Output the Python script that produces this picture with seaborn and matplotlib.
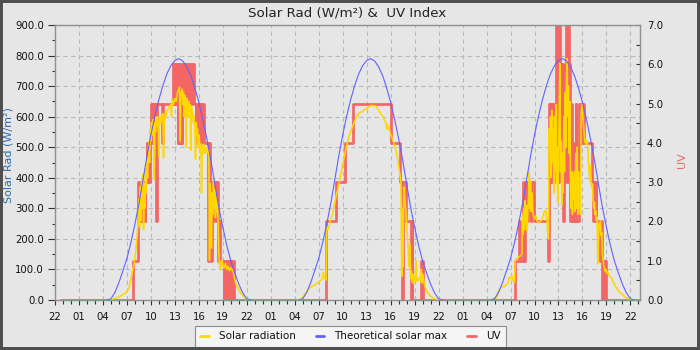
import matplotlib
matplotlib.use("Agg")
import matplotlib.pyplot as plt
import pandas as pd
import seaborn as sns
from matplotlib.lines import Line2D
from matplotlib.patches import Rectangle
from matplotlib.ticker import FixedLocator, MultipleLocator, FuncFormatter

sns.set_theme(style="white")
plt.rcParams["font.family"] = ["DejaVu Sans"]

# time axis in hours, 0 = midnight that starts the first full day
day_starts = [0, 24, 48]
data_start, data_end = -1.3, 71.1

# theoretical max, same curve each day (hour of day -> W/m2)
theo_hours = [4.5, 5.0, 5.5, 6.0, 6.5, 7.0, 7.5, 8.0, 8.5, 9.0, 9.5, 10.0, 10.5,
              11.0, 11.5, 12.0, 12.5, 13.0, 13.5, 14.0, 14.5, 15.0, 15.5, 16.0,
              16.5, 17.0, 17.5, 18.0, 18.5, 19.0, 19.5, 20.0, 20.5, 21.0, 21.5,
              22.0, 22.5]
theo_watts = [0, 4, 25, 57, 96, 136, 188, 248, 315, 392, 470, 540, 602,
              656, 702, 740, 767, 784, 790, 782, 763, 734, 694, 647,
              591, 528, 458, 380, 303, 238, 178, 128, 88, 52, 23,
              4, 0]

# measured solar radiation (hour of day, W/m2)
solar_day1 = [(4.8, 0), (5.5, 5), (6.0, 10), (6.5, 18), (6.9, 25), (7.25, 40), (7.5, 65),
              (7.7, 95), (7.9, 120), (8.1, 160), (8.25, 200), (8.4, 260), (8.5, 330),
              (8.58, 240), (8.67, 370), (8.75, 260), (8.83, 390), (8.92, 300), (9.0, 410),
              (9.08, 230), (9.17, 380), (9.25, 300), (9.33, 430), (9.42, 350), (9.5, 460),
              (9.58, 400), (9.67, 480), (9.75, 520), (9.83, 450), (9.92, 560), (10.0, 520),
              (10.08, 580), (10.17, 540), (10.25, 590), (10.33, 560), (10.42, 395),
              (10.5, 580), (10.58, 550), (10.67, 600), (10.75, 570), (10.83, 600),
              (10.92, 560), (11.0, 470), (11.08, 585), (11.17, 600), (11.25, 580),
              (11.33, 605), (11.42, 590), (11.5, 610), (11.58, 465), (11.67, 600),
              (11.75, 590), (11.83, 615), (11.92, 600), (12.0, 620), (12.17, 625),
              (12.33, 635), (12.5, 640), (12.58, 600), (12.67, 655), (12.83, 640),
              (13.0, 660), (13.17, 650), (13.33, 680), (13.5, 690), (13.58, 697),
              (13.67, 520), (13.75, 680), (13.83, 660), (13.92, 690), (14.0, 640),
              (14.08, 680), (14.17, 600), (14.25, 670), (14.33, 650), (14.42, 500),
              (14.5, 660), (14.58, 640), (14.67, 600), (14.75, 650), (14.83, 620),
              (14.92, 640), (15.0, 490), (15.08, 630), (15.17, 600), (15.25, 610),
              (15.33, 580), (15.42, 600), (15.5, 560), (15.58, 460), (15.67, 580),
              (15.75, 540), (15.83, 560), (15.92, 500), (16.0, 540), (16.08, 520),
              (16.17, 480), (16.25, 510), (16.33, 350), (16.42, 500), (16.5, 480),
              (16.58, 510), (16.67, 490), (16.75, 500), (16.83, 480), (16.92, 495),
              (17.0, 485), (17.08, 500), (17.17, 480), (17.25, 490), (17.33, 130),
              (17.42, 380), (17.5, 300), (17.58, 170), (17.67, 350), (17.75, 280),
              (17.83, 390), (17.92, 300), (18.0, 360), (18.08, 270), (18.17, 340),
              (18.25, 290), (18.33, 320), (18.42, 250), (18.5, 150), (18.58, 120),
              (18.67, 100), (18.75, 125), (18.83, 110), (18.92, 130), (19.0, 115),
              (19.17, 105), (19.33, 120), (19.5, 100), (19.67, 110), (19.83, 95),
              (20.0, 105), (20.17, 100), (20.33, 90), (20.5, 65), (20.75, 45), (21.0, 35),
              (21.25, 22), (21.5, 15), (21.75, 8), (22.0, 2), (22.1, 0)]

solar_day2 = [(4.4, 0), (4.8, 3), (5.2, 16), (5.5, 28), (5.83, 38), (6.17, 45), (6.46, 49),
              (6.75, 54), (7.08, 60), (7.33, 66), (7.5, 75), (7.58, 90), (7.67, 72),
              (7.83, 68), (7.92, 65), (8.0, 240), (8.17, 232), (8.33, 245), (8.5, 262),
              (8.75, 284), (9.0, 315), (9.17, 339), (9.38, 362), (9.58, 388), (9.79, 415),
              (10.0, 443), (10.21, 470), (10.42, 497), (10.63, 520), (10.83, 541),
              (11.04, 555), (11.25, 568), (11.46, 583), (11.67, 596), (11.88, 605),
              (12.08, 612), (12.29, 615), (12.5, 617), (12.71, 622), (12.92, 625),
              (13.13, 630), (13.33, 634), (13.54, 637), (13.75, 636), (13.96, 636),
              (14.17, 634), (14.38, 626), (14.58, 617), (14.79, 610), (15.0, 601),
              (15.21, 590), (15.42, 579), (15.5, 560), (15.58, 575), (15.83, 557),
              (16.04, 540), (16.25, 525), (16.46, 508), (16.67, 492), (16.88, 459),
              (17.08, 426), (17.29, 383), (17.38, 77), (17.46, 300), (17.54, 110),
              (17.63, 370), (17.71, 350), (17.92, 284), (18.13, 197), (18.25, 130),
              (18.33, 109), (18.42, 180), (18.5, 70), (18.58, 95), (18.67, 60),
              (18.75, 85), (18.83, 55), (18.92, 75), (19.0, 60), (19.08, 80),
              (19.17, 129), (19.25, 60), (19.33, 70), (19.5, 65), (19.67, 75),
              (19.75, 60), (19.83, 100), (19.92, 55), (20.0, 85), (20.17, 60),
              (20.33, 40), (20.5, 30), (20.75, 20), (21.0, 13), (21.33, 6), (21.67, 2),
              (22.1, 0)]

solar_day3 = [(4.5, 0), (4.9, 5), (5.25, 8), (5.5, 30), (5.75, 38), (6.0, 45), (6.25, 44),
              (6.5, 52), (6.67, 55), (6.83, 75), (7.0, 70), (7.17, 80), (7.33, 62),
              (7.5, 58), (7.6, 130), (7.75, 135), (8.0, 140), (8.25, 145), (8.42, 150),
              (8.5, 280), (8.58, 215), (8.67, 300), (8.75, 230), (8.83, 325), (8.92, 250),
              (9.0, 310), (9.08, 225), (9.17, 290), (9.25, 330), (9.33, 418), (9.42, 300),
              (9.5, 390), (9.58, 290), (9.67, 350), (9.75, 300), (9.83, 280), (9.92, 270),
              (10.0, 265), (10.17, 275), (10.33, 258), (10.5, 252), (10.67, 255),
              (10.83, 260), (11.0, 270), (11.17, 285), (11.33, 293), (11.42, 290),
              (11.5, 270), (11.58, 250), (11.67, 216), (11.75, 200), (11.83, 560),
              (11.92, 480), (12.0, 600), (12.08, 400), (12.17, 620), (12.25, 450),
              (12.33, 560), (12.42, 350), (12.5, 600), (12.58, 420), (12.67, 640),
              (12.75, 380), (12.83, 500), (12.92, 320), (13.0, 450), (13.08, 600),
              (13.17, 774), (13.25, 420), (13.33, 520), (13.42, 310), (13.5, 480),
              (13.58, 350), (13.67, 600), (13.75, 420), (13.83, 680), (13.92, 500),
              (14.0, 720), (14.08, 790), (14.17, 600), (14.25, 700), (14.33, 480),
              (14.42, 650), (14.5, 400), (14.58, 300), (14.67, 420), (14.75, 280),
              (14.83, 400), (14.92, 330), (15.0, 420), (15.08, 290), (15.17, 480),
              (15.25, 300), (15.33, 500), (15.42, 280), (15.5, 420), (15.58, 300),
              (15.67, 400), (15.75, 280), (15.83, 600), (15.92, 640), (16.0, 620),
              (16.08, 590), (16.17, 560), (16.25, 530), (16.33, 515), (16.42, 525),
              (16.5, 510), (16.58, 520), (16.67, 500), (16.75, 450), (16.83, 420),
              (16.92, 390), (17.0, 440), (17.08, 380), (17.17, 370), (17.25, 380),
              (17.33, 330), (17.42, 300), (17.5, 320), (17.58, 280), (17.67, 290),
              (17.75, 260), (17.83, 270), (17.92, 118), (18.0, 200), (18.08, 250),
              (18.17, 230), (18.25, 260), (18.33, 210), (18.42, 220), (18.5, 150),
              (18.58, 130), (18.67, 110), (18.75, 105), (18.83, 95), (18.92, 100),
              (19.0, 88), (19.17, 92), (19.33, 80), (19.5, 75), (19.67, 72), (19.83, 60),
              (20.0, 50), (20.25, 40), (20.5, 30), (20.75, 22), (21.0, 18), (21.33, 10),
              (21.67, 5), (22.0, 2), (22.4, 0)]

# UV index change points (hour of day, index)
uv_day1 = [(7.75, 1), (8.4, 3), (8.5, 2), (8.6, 3), (8.75, 2), (8.85, 3), (9.0, 2), (9.1, 3),
           (9.2, 2), (9.3, 3), (9.45, 4), (9.55, 3), (9.65, 4), (9.8, 3), (9.9, 4), (10.0, 5),
           (10.1, 4), (10.2, 5), (10.35, 4), (10.45, 5), (10.65, 2), (10.72, 5), (11.45, 4),
           (11.55, 5), (12.75, 6), (12.85, 5), (12.95, 6), (13.1, 5), (13.2, 6), (13.35, 4),
           (13.45, 6), (13.6, 4), (13.7, 6), (13.85, 4), (13.95, 6), (14.1, 5), (14.2, 6),
           (14.4, 5), (14.5, 6), (14.7, 5), (14.8, 6), (15.0, 5), (15.1, 6), (15.4, 5),
           (15.6, 4), (15.7, 5), (15.9, 4), (16.0, 5), (16.25, 4), (16.35, 5), (16.6, 4),
           (17.2, 1), (17.3, 4), (17.45, 3), (17.55, 1), (17.65, 3), (17.8, 2), (17.9, 3),
           (18.2, 2), (18.3, 3), (18.45, 1), (18.55, 2), (18.65, 1), (19.1, 0), (19.2, 1),
           (19.3, 0), (19.4, 1), (19.5, 0), (19.6, 1), (19.75, 0), (19.85, 1), (20.1, 0),
           (20.2, 1), (20.4, 0)]

uv_day2 = [(7.92, 2), (9.17, 3), (10.33, 4), (11.33, 5), (16.04, 4), (17.17, 3), (17.4, 0),
           (17.6, 3), (17.92, 2), (18.54, 0), (18.62, 2), (18.72, 0), (19.8, 1), (20.0, 0)]

uv_day3 = [(7.5, 1), (8.1, 2), (8.2, 1), (8.5, 2), (8.6, 3), (8.7, 1), (8.8, 2), (8.9, 3),
           (9.05, 2), (9.15, 3), (9.5, 2), (9.6, 3), (9.9, 2), (11.65, 1), (11.78, 5),
           (11.88, 3), (11.98, 5), (12.08, 3), (12.18, 5), (12.3, 4), (12.4, 5), (12.5, 3),
           (12.6, 5), (12.7, 7), (12.8, 6), (12.9, 7), (13.0, 3), (13.1, 7), (13.2, 6),
           (13.35, 4), (13.45, 6), (13.55, 2), (13.65, 5), (13.75, 3), (13.85, 6), (14.0, 7),
           (14.1, 3), (14.2, 7), (14.3, 6), (14.45, 2), (14.55, 5), (14.7, 2), (14.85, 4),
           (15.0, 2), (15.15, 5), (15.25, 2), (15.55, 5), (15.65, 4), (15.75, 5), (15.9, 4),
           (16.0, 5), (16.2, 4), (17.15, 3), (17.3, 2), (17.4, 3), (17.55, 2), (17.65, 3),
           (17.75, 2), (18.2, 1), (18.3, 2), (18.4, 1), (18.5, 0), (18.55, 1), (18.65, 0),
           (18.7, 1), (18.8, 0), (18.85, 1), (19.0, 0)]

yellow = "#ffd700"
blue = "#6262ff"
red = "#f46666"
bg = "#e6e6e6"

solar = pd.DataFrame(
    [(d, day_starts[d] + h, w)
     for d, pts in enumerate([solar_day1, solar_day2, solar_day3]) for h, w in pts],
    columns=["day", "t", "watts"])
theo = pd.DataFrame(
    [(d, day_starts[d] + h, w)
     for d in range(3) for h, w in zip(theo_hours, theo_watts)],
    columns=["day", "t", "watts"])
uv_rows = [(data_start, 0)]
for d, pts in enumerate([uv_day1, uv_day2, uv_day3]):
    uv_rows += [(day_starts[d] + h, v) for h, v in pts]
uv_rows.append((data_end, 0))
uv = pd.DataFrame(uv_rows, columns=["t", "uv"])

fig = plt.figure(figsize=(7, 3.5), dpi=100, facecolor=bg)
rect = [55 / 700, 50 / 350, 585 / 700, 275 / 350]
xlim = (-2.0, 71.2)
xmajor = list(range(-2, 71, 3))

# bottom layer: background + dashed grid
gax = fig.add_axes(rect, zorder=0)
gax.set_facecolor(bg)
gax.set_xlim(*xlim)
gax.set_ylim(0, 900)
gax.xaxis.set_major_locator(FixedLocator(xmajor))
gax.yaxis.set_major_locator(MultipleLocator(100))
gax.grid(True, color="#b9b9b9", linestyle=(0, (4, 3)), linewidth=0.8)
gax.tick_params(length=0, labelleft=False, labelbottom=False)
for s in gax.spines.values():
    s.set_visible(False)

# middle layer: UV on the right scale
ax2 = fig.add_axes(rect, zorder=1)
ax2.patch.set_visible(False)
sns.lineplot(data=uv, x="t", y="uv", estimator=None, drawstyle="steps-post",
             color=red, linewidth=1.95, ax=ax2)
ax2.set_xlim(*xlim)
ax2.set_ylim(0, 7)
ax2.yaxis.tick_right()
ax2.yaxis.set_major_locator(MultipleLocator(1))
ax2.yaxis.set_minor_locator(MultipleLocator(0.5))
ax2.yaxis.set_major_formatter(FuncFormatter(lambda v, p: f"{v:.1f}"))
ax2.tick_params(axis="y", which="both", direction="in", length=3, width=0.8,
                color="#333333", labelsize=7.3, pad=5, labelcolor="#111111",
                right=True, left=False)
ax2.tick_params(axis="x", which="both", bottom=False, labelbottom=False)
ax2.set_xlabel("")
ax2.set_ylabel("")
for s in ax2.spines.values():
    s.set_visible(False)

# top layer: solar radiation and theoretical max on the left scale
ax = fig.add_axes(rect, zorder=2)
ax.patch.set_visible(False)
sns.lineplot(data=solar, x="t", y="watts", units="day", estimator=None,
             color=yellow, linewidth=1.15, ax=ax)
sns.lineplot(data=theo, x="t", y="watts", units="day", estimator=None,
             color=blue, linewidth=0.8, ax=ax)
ax.set_xlim(*xlim)
ax.set_ylim(0, 900)
ax.xaxis.set_major_locator(FixedLocator(xmajor))
ax.xaxis.set_minor_locator(MultipleLocator(1))
ax.xaxis.set_major_formatter(FuncFormatter(lambda v, p: f"{int(round(v)) % 24:02d}"))
ax.yaxis.set_major_locator(MultipleLocator(100))
ax.yaxis.set_minor_locator(MultipleLocator(50))
ax.yaxis.set_major_formatter(FuncFormatter(lambda v, p: f"{v:.1f}"))
ax.tick_params(axis="y", which="major", length=5, width=0.8, color="#333333",
               labelsize=7.3, pad=3, labelcolor="#111111", left=True)
ax.tick_params(axis="y", which="minor", length=2.5, width=0.8, color="#333333", left=True)
ax.tick_params(axis="x", which="major", length=3.5, width=0.8, color="#333333",
               labelsize=7.3, pad=5, labelcolor="#111111", bottom=True)
ax.tick_params(axis="x", which="minor", length=3, width=0.8, color="#333333", bottom=True)
ax.set_xlabel("")
ax.set_ylabel("")
for s in ax.spines.values():
    s.set_visible(True)
    s.set_color("#8f8f8f")
    s.set_linewidth(1.0)

fig.text(0.4964, 1 - 17 / 350, "Solar Rad (W/m²) &  UV Index", ha="center",
         va="baseline", fontsize=9.6, color="#222222")
fig.text(9 / 700, 1 - 155 / 350, "Solar Rad (W/m²)", rotation=90, ha="center",
         va="center", fontsize=8, color="#2b6cb0")
fig.text(682 / 700, 1 - 160 / 350, "UV", rotation=90, ha="center", va="center",
         fontsize=8, color="#e86a6a")

handles = [Line2D([], [], color=yellow, lw=2), Line2D([], [], color=blue, lw=2),
           Line2D([], [], color=red, lw=2)]
leg = fig.legend(handles, ["Solar radiation", "Theoretical solar max", "UV"],
                 loc="upper center", bbox_to_anchor=(0.5007, 1 - 325.7 / 350), ncol=3,
                 fontsize=7.5, frameon=True, fancybox=False, edgecolor="#8c8c8c",
                 facecolor="#f5f5f5", framealpha=1, handlelength=0.8,
                 handletextpad=1.0, columnspacing=1.9, borderpad=0.55,
                 borderaxespad=0)
leg.get_frame().set_linewidth(0.8)
for t in leg.get_texts():
    t.set_color("#111111")

fig.patches.append(Rectangle((0, 0), 1, 1, transform=fig.transFigure, fill=False,
                             edgecolor="#4f4f4f", linewidth=4.3, zorder=10))

fig.savefig("out.png", dpi=100, facecolor=bg)
